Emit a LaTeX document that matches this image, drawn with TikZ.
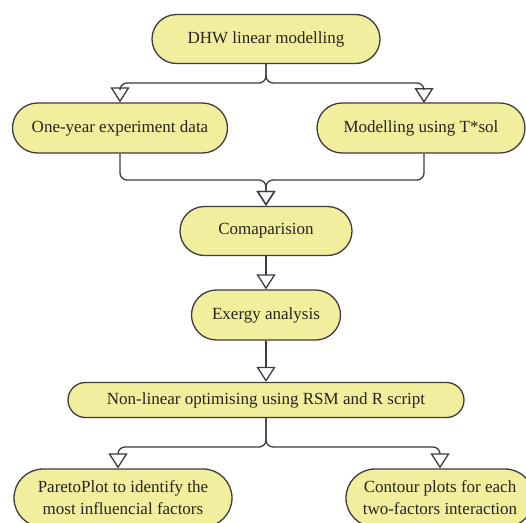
\documentclass[tikz,border=0pt]{standalone}
\usepackage{fontspec}
\setmainfont{Liberation Serif}
\usetikzlibrary{arrows.meta,shapes.misc}
\definecolor{fillY}{RGB}{241,239,157}
\definecolor{edgeC}{RGB}{60,60,60}
\definecolor{textC}{RGB}{40,35,30}
\begin{document}
\begin{tikzpicture}[x=1pt,y=-1pt,
  box/.style={rounded rectangle, draw=edgeC, line width=1.3pt, fill=fillY,
    inner sep=0pt, minimum height=50pt, text=textC, align=center,
    font=\fontsize{17}{22}\selectfont},
  conn/.style={draw=edgeC, line width=1.3pt, rounded corners=7pt},
  arr/.style={conn, -{Triangle[open, length=15pt, width=19pt, line width=1.3pt]}}]
\useasboundingbox (0,0) rectangle (526,522);
\clip (0,0) rectangle (526,522);
\node[box, minimum width=228pt, minimum height=49pt] (n1) at (266,39) {DHW linear modelling};
\node[box, minimum width=215pt] (n2) at (120,128) {One-year experiment data};
\node[box, minimum width=208pt] (n3) at (421,128) {Modelling using T*sol};
\node[box, minimum width=172pt, minimum height=49pt] (n4) at (266,231) {Comaparision};
\node[box, minimum width=149pt] (n5) at (266,315) {Exergy analysis};
\node[box, minimum width=396pt, minimum height=35pt] (n6) at (266,400) {Non-linear optimising using RSM and R script};
\node[box, minimum width=218pt, minimum height=58pt] (n7) at (123,498) {ParetoPlot to identify the\\most influencial factors};
\node[box, minimum width=188pt, minimum height=58pt] (n8) at (440,498) {Contour plots for each\\two-factors interaction};
\coordinate (j1) at (266,83);
\coordinate (j2) at (266,180);
\coordinate (j3) at (266,447);
\draw[arr] (n1.south) -- (j1) -| (n2.north);
\draw[arr] (n1.south) -- (j1) -| (424,103);
\draw[arr] (n2.south) |- (j2) -- (n4.north);
\draw[arr] (n3.south -| 424,0) |- (j2) -- (n4.north);
\draw[arr] (n4.south) -- (n5.north);
\draw[arr] (n5.south) -- (n6.north);
\draw[arr] (n6.south) -- (j3) -| (n7.north -| 118,0);
\draw[arr] (n6.south) -- (j3) -| (n8.north);
\end{tikzpicture}
\end{document}
